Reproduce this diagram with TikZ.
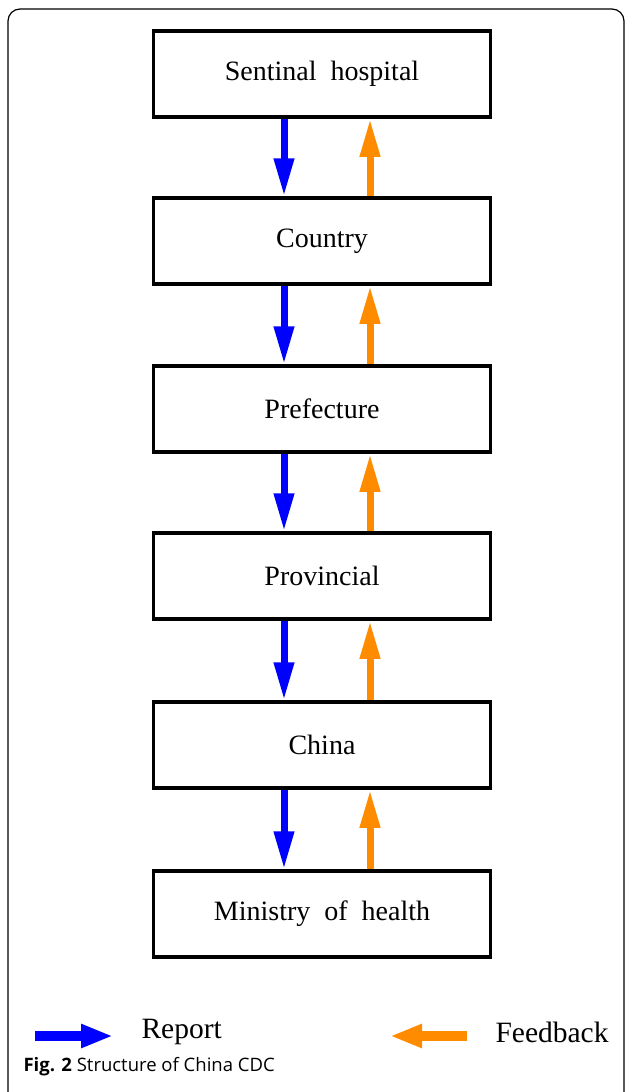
\documentclass[tikz,border=0pt]{standalone}
\usepackage{fontspec}
\setmainfont{Liberation Serif}
\newfontfamily\capfont{Open Sans}
\usetikzlibrary{arrows.meta}
\begin{document}
\begin{tikzpicture}[x=1pt,y=-1pt,
    level/.style={draw,line width=3.5pt,minimum width=337pt,minimum height=86pt,
      font=\fontsize{28}{32}\selectfont},
    report/.style={draw=blue,line width=7pt,-{Triangle[length=38pt,width=19pt]},blue},
    feedback/.style={draw=orange!90!yellow,line width=7pt,-{Triangle[length=38pt,width=19pt]},orange!90!yellow},
    legtext/.style={font=\fontsize{29.5}{34}\selectfont}]
  \useasboundingbox (0,0) rectangle (627,1092);
  \draw[line width=1.2pt,rounded corners=12pt] (8,1100) -- (8,9) -- (624,9) -- (624,1100);
  \node[level] (hosp) at (322,74) {Sentinal\ \ hospital};
  \node[level] (cnty) at (322,241) {Country};
  \node[level] (pref) at (322,409) {Prefecture};
  \node[level] (prov) at (322,576) {Provincial};
  \node[level] (chn) at (322,745) {China};
  \node[level] (moh) at (322,914) {Ministry\ \ of\ \ health};
  \coordinate (dn) at (284,0);
  \coordinate (up) at (370,0);
  \draw[report] (hosp.south -| dn) -- (cnty.north -| dn);
  \draw[report] (cnty.south -| dn) -- (pref.north -| dn);
  \draw[report] (pref.south -| dn) -- (prov.north -| dn);
  \draw[report] (prov.south -| dn) -- (chn.north -| dn);
  \draw[report] (chn.south -| dn) -- (moh.north -| dn);
  \draw[feedback] (cnty.north -| up) -- (hosp.south -| up);
  \draw[feedback] (pref.north -| up) -- (cnty.south -| up);
  \draw[feedback] (prov.north -| up) -- (pref.south -| up);
  \draw[feedback] (chn.north -| up) -- (prov.south -| up);
  \draw[feedback] (moh.north -| up) -- (chn.south -| up);
  % legend
  \coordinate (r1) at (35,1036);
  \coordinate (r2) at (113,1036);
  \coordinate (f1) at (467,1036);
  \coordinate (f2) at (390,1036);
  \draw[report,line width=10pt,-{Triangle[length=32pt,width=22pt]}] (r1) -- (r2);
  \draw[feedback,line width=10pt,-{Triangle[length=32pt,width=22pt]}] (f1) -- (f2);
  \node[legtext,anchor=west] (rep) at (138,1032) {Report};
  \node[legtext,anchor=west] (fbk) at (492,1032) {Feedback};
  \node[anchor=west,font=\capfont\fontsize{18.5}{22}\selectfont] (cap) at (20,1067)
    {\textbf{Fig. 2} Structure of China CDC};
\end{tikzpicture}
\end{document}
